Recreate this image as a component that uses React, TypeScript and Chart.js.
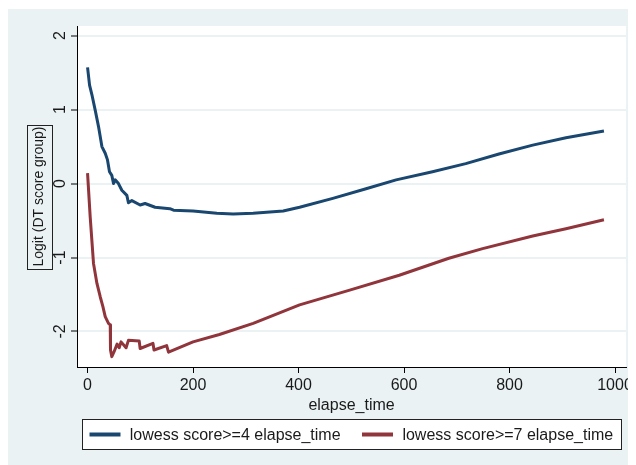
import React, { useEffect, useRef } from "react";
import { Chart, registerables } from "chart.js";
Chart.register(...registerables);

const seriesLabels = ["lowess score>=4 elapse_time", "lowess score>=7 elapse_time"];
const seriesColors = ["#1a476f", "#90353b"];
const xTitle = "elapse_time";
const yTitle = "Logit (DT score group)";
const xTicks = [0, 200, 400, 600, 800, 1000];
const yTicks = [-2, -1, 0, 1, 2];

const blueX = [0, 3.8, 8.3, 14.6, 20.8, 27.2, 33.5, 37.8, 41.6, 46, 49.2, 52.4, 58.6, 65, 74.5, 77.5, 84, 99.7, 109, 128, 156, 163, 200, 245, 276, 314, 371, 402, 465, 528, 585, 654, 717, 780, 844, 907, 979];
const blueY = [1.57, 1.33, 1.2, 0.99, 0.77, 0.5, 0.41, 0.32, 0.16, 0.11, 0.0, 0.05, 0.0, -0.09, -0.16, -0.26, -0.23, -0.29, -0.27, -0.32, -0.34, -0.36, -0.37, -0.4, -0.41, -0.4, -0.37, -0.32, -0.2, -0.07, 0.05, 0.16, 0.27, 0.4, 0.52, 0.62, 0.71];

const redX = [0, 5, 11.3, 17.8, 24, 29, 33.5, 39.7, 43, 43.5, 46, 50.5, 56, 60, 63.5, 73, 77.5, 98, 99.7, 124, 126, 150, 153.5, 200, 250, 314, 402, 497, 591, 685, 749, 844, 907, 979];
const redY = [0.14, -0.45, -1.08, -1.35, -1.53, -1.66, -1.8, -1.89, -1.91, -2.25, -2.34, -2.27, -2.17, -2.22, -2.14, -2.22, -2.12, -2.13, -2.23, -2.16, -2.25, -2.19, -2.28, -2.14, -2.04, -1.89, -1.64, -1.44, -1.24, -1.01, -0.88, -0.71, -0.61, -0.49];

const FONT = '"Liberation Sans", Arial, Helvetica, sans-serif';
const BG = "#eaf2f3";
const TEXT = "#1a1a1a";

const decorPlugin = {
  id: "decor",
  beforeDraw(chart: any) {
    const { ctx, chartArea } = chart;
    ctx.save();
    ctx.fillStyle = BG;
    ctx.fillRect(0, 1, chart.width, chart.height - 1);
    ctx.fillStyle = "#ffffff";
    ctx.fillRect(chartArea.left, chartArea.top, chartArea.right - chartArea.left, chartArea.bottom - chartArea.top);
    ctx.restore();
  },
  afterDraw(chart: any) {
    const { ctx, chartArea } = chart;
    const yScale = chart.scales.y;
    ctx.save();
    ctx.fillStyle = TEXT;
    ctx.font = `16px ${FONT}`;
    ctx.textAlign = "center";
    ctx.textBaseline = "alphabetic";
    for (const t of yScale.ticks) {
      const py = yScale.getPixelForValue(t.value);
      ctx.save();
      ctx.translate(57, py);
      ctx.rotate(-Math.PI / 2);
      ctx.fillText(String(t.value), 0, 0);
      ctx.restore();
    }
    const cy = (chartArea.top + chartArea.bottom) / 2;
    ctx.strokeStyle = "#222";
    ctx.lineWidth = 1;
    ctx.strokeRect(19.5, Math.round(cy - 72) + 0.5, 25, 144);
    const lx0 = 74.5, ly0 = 411.5, lx1 = 613.5, ly1 = 441.5;
    ctx.fillStyle = "#ffffff";
    ctx.fillRect(lx0, ly0, lx1 - lx0, ly1 - ly0);
    ctx.strokeStyle = "#222";
    ctx.strokeRect(lx0, ly0, lx1 - lx0, ly1 - ly0);
    const lyc = (ly0 + ly1) / 2;
    const items = [
      { sx: 81.5, tx: 121.8 },
      { sx: 354, tx: 394.4 },
    ];
    chart.data.datasets.forEach((ds: any, i: number) => {
      const it = items[i];
      ctx.strokeStyle = ds.borderColor;
      ctx.lineWidth = 4;
      ctx.beginPath();
      ctx.moveTo(it.sx, lyc);
      ctx.lineTo(it.sx + 31, lyc);
      ctx.stroke();
      ctx.fillStyle = TEXT;
      ctx.font = `16px ${FONT}`;
      ctx.textAlign = "left";
      ctx.textBaseline = "middle";
      ctx.fillText(ds.label, it.tx, lyc + 1);
    });
    ctx.restore();
  },
};

export default function App() {
  const ref = useRef<HTMLCanvasElement | null>(null);
  useEffect(() => {
    if (!ref.current) return;
    const mk = (xs: number[], ys: number[]) => xs.map((x, i) => ({ x, y: ys[i] }));
    const chart = new Chart(ref.current, {
      type: "line",
      data: {
        datasets: [
          { label: seriesLabels[0], data: mk(blueX, blueY), borderColor: seriesColors[0], backgroundColor: seriesColors[0], borderWidth: 3, borderJoinStyle: "round", pointRadius: 0, tension: 0, fill: false },
          { label: seriesLabels[1], data: mk(redX, redY), borderColor: seriesColors[1], backgroundColor: seriesColors[1], borderWidth: 3, borderJoinStyle: "round", pointRadius: 0, tension: 0, fill: false },
        ],
      },
      options: {
        responsive: false,
        animation: false,
        devicePixelRatio: 1,
        layout: { padding: { left: 0, top: 18, right: 9, bottom: 0 } },
        plugins: { legend: { display: false }, tooltip: { enabled: false } },
        scales: {
          x: {
            type: "linear",
            min: -20,
            max: 1021,
            afterBuildTicks: (s: any) => { s.ticks = xTicks.map((v) => ({ value: v })); },
            afterFit: (s: any) => { s.height = 98; },
            grid: { drawOnChartArea: false, drawTicks: true, tickLength: 6, tickColor: "#000", tickWidth: 1 },
            border: { display: true, color: "#000", width: 1 },
            ticks: { color: TEXT, font: { size: 16, family: FONT }, padding: 3, maxRotation: 0, autoSkip: false, callback: (v: any) => String(v) },
            title: { display: true, text: xTitle, color: TEXT, font: { size: 16, family: FONT }, padding: { top: 0, bottom: 50 } },
          },
          y: {
            type: "linear",
            min: -2.48,
            max: 2.13,
            afterBuildTicks: (s: any) => { s.ticks = yTicks.map((v) => ({ value: v })); },
            afterFit: (s: any) => { s.width = 69; },
            grid: { color: BG, lineWidth: 2, drawTicks: true, tickLength: 6, tickColor: "#000", tickWidth: 1 },
            border: { display: true, color: "#000", width: 1 },
            ticks: { display: false },
            title: { display: true, text: yTitle, color: TEXT, font: { size: 14, family: FONT }, padding: { top: 23, bottom: 0 } },
          },
        },
      },
      plugins: [decorPlugin],
    } as any);
    return () => chart.destroy();
  }, []);
  return (
    <div style={{ width: 628, height: 457 }}>
      <canvas ref={ref} width={628} height={457} style={{ display: "block" }} />
    </div>
  );
}
